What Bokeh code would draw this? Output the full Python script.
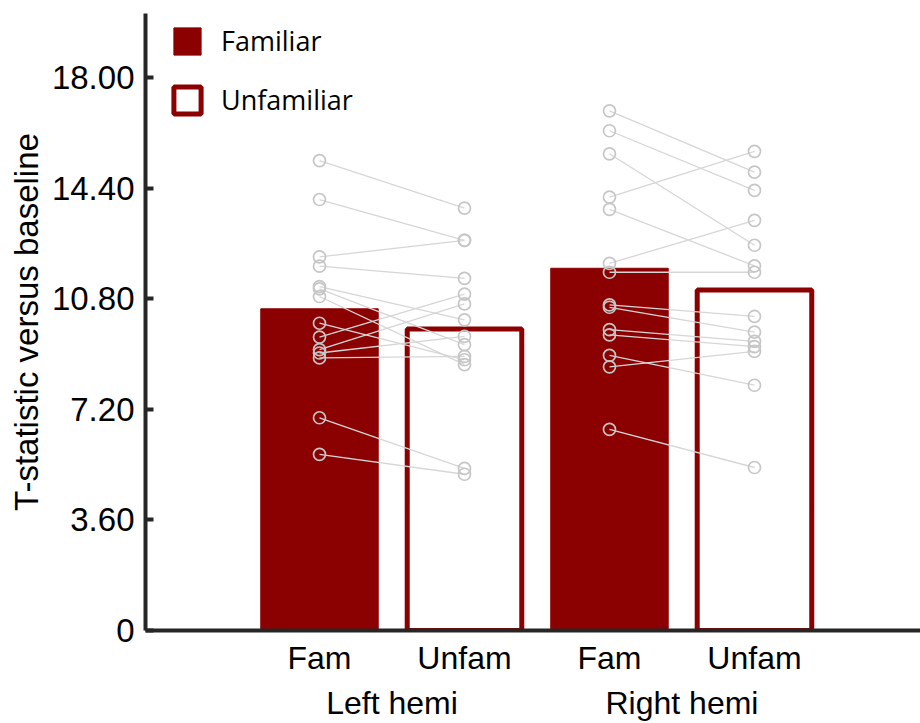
from bokeh.plotting import figure
from bokeh.models import Range1d, FixedTicker, LinearAxis, Legend, LegendItem
from bokeh.embed import file_html
from bokeh.resources import INLINE

# Conditions along the x axis, grouped by hemisphere
conditions = ["Fam", "Unfam", "Fam", "Unfam"]
hemispheres = ["Left hemi", "Right hemi"]

# Group means (left fam, left unfam, right fam, right unfam)
bar_means = [10.48, 9.82, 11.80, 11.09]

# Per-subject T-statistics, paired by index within each hemisphere
left_fam = [15.31, 14.04, 12.17, 11.87, 11.20, 11.13, 10.88, 10.01, 9.56, 9.15, 9.04, 8.88, 6.93, 5.74]
left_unfam = [13.76, 12.71, 12.71, 11.47, 10.12, 9.31, 8.66, 8.82, 10.96, 10.64, 9.58, 8.93, 5.28, 5.09]
right_fam = [16.93, 16.28, 15.53, 14.12, 13.72, 11.96, 11.67, 10.61, 10.53, 9.80, 9.63, 8.96, 8.59, 6.55]
right_unfam = [14.93, 14.34, 12.55, 15.61, 11.88, 13.36, 11.67, 10.23, 9.72, 9.42, 9.25, 7.99, 9.09, 5.31]

y_tick_values = [0, 3.6, 7.2, 10.8, 14.4, 18.0]
y_tick_labels = ["0", "3.60", "7.20", "10.80", "14.40", "18.00"]

RED = "#8b0000"
AXIS = "#262626"
SUBJ_LINE = "#d6d6d6"
SUBJ_MARK = "#c6c6c6"
FONT = "Liberation Sans"

xs = [i + 1 for i in range(len(conditions))]
group_x = [(xs[2 * k] + xs[2 * k + 1]) / 2 for k in range(len(hemispheres))]

p = figure(
    width=920, height=723,
    x_range=Range1d(-0.2, 5.145), y_range=Range1d(0, 20.1),
    output_backend="svg", toolbar_location=None,
    min_border_left=145, min_border_right=0, min_border_top=13, min_border_bottom=90,
)
p.outline_line_color = None
p.grid.visible = False
p.background_fill_color = "white"

# Bars: filled for familiar, outlined for unfamiliar
fam_r = p.vbar(x=xs[0::2], top=bar_means[0::2], bottom=0, width=0.81,
               fill_color=RED, line_color=RED, line_width=1)
unfam_r = p.vbar(x=xs[1::2], top=bar_means[1::2], bottom=0, width=0.79,
                 fill_color="white", line_color=RED, line_width=5)

# Subject-wise lines joining the two conditions
for k, (fam, unfam) in enumerate([(left_fam, left_unfam), (right_fam, right_unfam)]):
    xf, xu = xs[2 * k], xs[2 * k + 1]
    p.segment(x0=[xf] * len(fam), y0=fam, x1=[xu] * len(unfam), y1=unfam,
              line_color=SUBJ_LINE, line_width=1.3)
    p.scatter(x=[xf] * len(fam), y=fam, marker="circle", size=12,
              fill_color=None, line_color=SUBJ_MARK, line_width=1.7)
    p.scatter(x=[xu] * len(unfam), y=unfam, marker="circle", size=12,
              fill_color=None, line_color=SUBJ_MARK, line_width=1.7)

# Y axis
yax = p.yaxis[0]
yax.ticker = FixedTicker(ticks=y_tick_values)
yax.major_label_overrides = {v: s for v, s in zip(y_tick_values, y_tick_labels)}
yax.axis_line_color = AXIS
yax.axis_line_width = 4
yax.major_tick_line_color = AXIS
yax.major_tick_line_width = 4
yax.major_tick_in = 8
yax.major_tick_out = 0
yax.minor_tick_line_color = None
yax.major_label_text_font = FONT
yax.major_label_text_font_size = "33px"
yax.major_label_text_color = "black"
yax.major_label_standoff = 11
yax.axis_label = "T-statistic versus baseline"
yax.axis_label_text_font = FONT
yax.axis_label_text_font_size = "33px"
yax.axis_label_text_font_style = "normal"
yax.axis_label_text_color = "black"
yax.axis_label_standoff = 4

# X axis: condition labels
xax = p.xaxis[0]
xax.ticker = FixedTicker(ticks=xs)
xax.major_label_overrides = {x: c for x, c in zip(xs, conditions)}
xax.axis_line_color = AXIS
xax.axis_line_width = 4
xax.major_tick_line_color = None
xax.minor_tick_line_color = None
xax.major_label_text_font = FONT
xax.major_label_text_font_size = "32px"
xax.major_label_text_color = "black"
xax.major_label_standoff = 3

# Second row: hemisphere labels
hax = LinearAxis(ticker=FixedTicker(ticks=group_x),
                 major_label_overrides={x: h for x, h in zip(group_x, hemispheres)})
hax.axis_line_color = None
hax.major_tick_line_color = None
hax.minor_tick_line_color = None
hax.major_label_text_font = FONT
hax.major_label_text_font_size = "32px"
hax.major_label_text_color = "black"
hax.major_label_standoff = 0
p.add_layout(hax, "below")

legend = Legend(
    items=[LegendItem(label="Familiar", renderers=[fam_r]),
           LegendItem(label="Unfamiliar", renderers=[unfam_r])],
    location=(25, 512), glyph_width=34, glyph_height=34, spacing=22,
    padding=0, margin=0, label_standoff=17,
    border_line_color=None, background_fill_alpha=0,
    label_text_font="Open Sans", label_text_font_size="27px", label_text_color="black",
)
p.add_layout(legend)

open("out.html", "w").write(file_html(p, INLINE))
